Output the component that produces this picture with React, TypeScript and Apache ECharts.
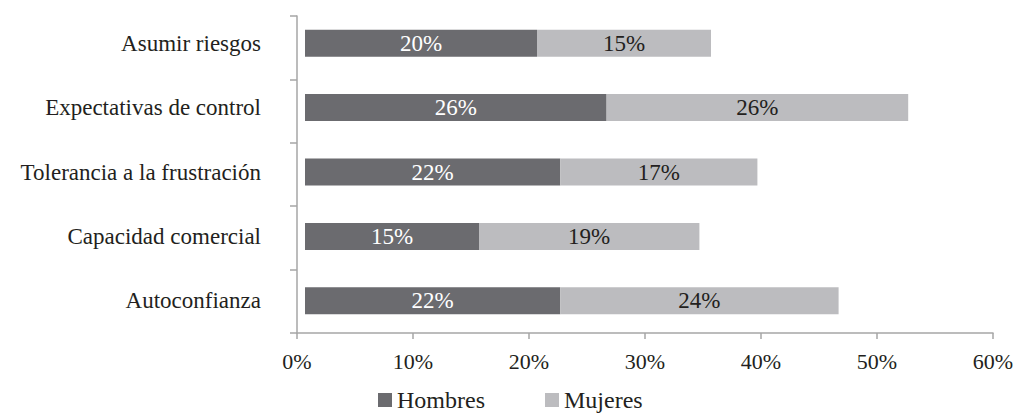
import React, { useEffect, useRef } from "react";
import * as echarts from "echarts";

const categories = [
  "Asumir riesgos",
  "Expectativas de control",
  "Tolerancia a la frustración",
  "Capacidad comercial",
  "Autoconfianza",
];
const hombres = [20, 26, 22, 15, 22];
const mujeres = [15, 26, 17, 19, 24];
const seriesNames = ["Hombres", "Mujeres"];

const FONT = "'Liberation Serif', 'DejaVu Serif', serif";
const TEXT = "#231f20";
const AXIS = "#a6a6a6";

export default function App() {
  const ref = useRef<HTMLDivElement>(null);
  useEffect(() => {
    document.body.style.margin = "0";
    const chart = echarts.init(ref.current!, undefined, { renderer: "svg" });
    chart.setOption({
      animation: false,
      textStyle: { fontFamily: FONT },
      grid: [
        { left: 297, right: 39, top: 16, bottom: 80 },
        { left: 305, right: 31, top: 11, bottom: 80 },
      ],
      legend: {
        data: seriesNames,
        left: 373,
        top: 383,
        itemWidth: 14,
        itemHeight: 14,
        itemGap: 60,
        icon: "rect",
        textStyle: { fontFamily: FONT, fontSize: 24, color: TEXT },
      },
      xAxis: [
        {
          gridIndex: 0,
          type: "value",
          min: 0,
          max: 60,
          interval: 10,
          axisLine: { show: true, lineStyle: { color: AXIS, width: 1.5 } },
          axisTick: { show: true, length: 6, lineStyle: { color: AXIS, width: 1.5 } },
          splitLine: { show: false },
          axisLabel: {
            formatter: "{value}%",
            fontFamily: FONT,
            fontSize: 22,
            color: TEXT,
            margin: 17,
          },
        },
        { gridIndex: 1, type: "value", min: 0, max: 60, show: false },
      ],
      yAxis: [
        {
          gridIndex: 0,
          type: "category",
          inverse: true,
          data: categories,
          axisLine: { show: true, lineStyle: { color: AXIS, width: 1.5 } },
          axisTick: { show: true, length: 7, lineStyle: { color: AXIS, width: 1.5 } },
          axisLabel: { show: false },
        },
        {
          gridIndex: 1,
          type: "category",
          inverse: true,
          data: categories,
          axisLine: { show: false },
          axisTick: { show: false },
          axisLabel: {
            fontFamily: FONT,
            fontSize: 23,
            color: TEXT,
            margin: 44,
          },
        },
      ],
      series: [
        {
          name: seriesNames[0],
          type: "bar",
          stack: "t",
          xAxisIndex: 1,
          yAxisIndex: 1,
          barWidth: 27,
          data: hombres,
          itemStyle: { color: "#6b6b6f" },
          label: {
            show: true,
            position: "inside",
            formatter: "{c}%",
            fontFamily: FONT,
            fontSize: 23,
            color: "#ffffff",
          },
        },
        {
          name: seriesNames[1],
          type: "bar",
          stack: "t",
          xAxisIndex: 1,
          yAxisIndex: 1,
          barWidth: 27,
          data: mujeres,
          itemStyle: { color: "#bcbcbf" },
          label: {
            show: true,
            position: "inside",
            formatter: "{c}%",
            fontFamily: FONT,
            fontSize: 23,
            color: TEXT,
          },
        },
      ],
    });
    return () => chart.dispose();
  }, []);
  return <div ref={ref} style={{ width: 1032, height: 413 }} />;
}
